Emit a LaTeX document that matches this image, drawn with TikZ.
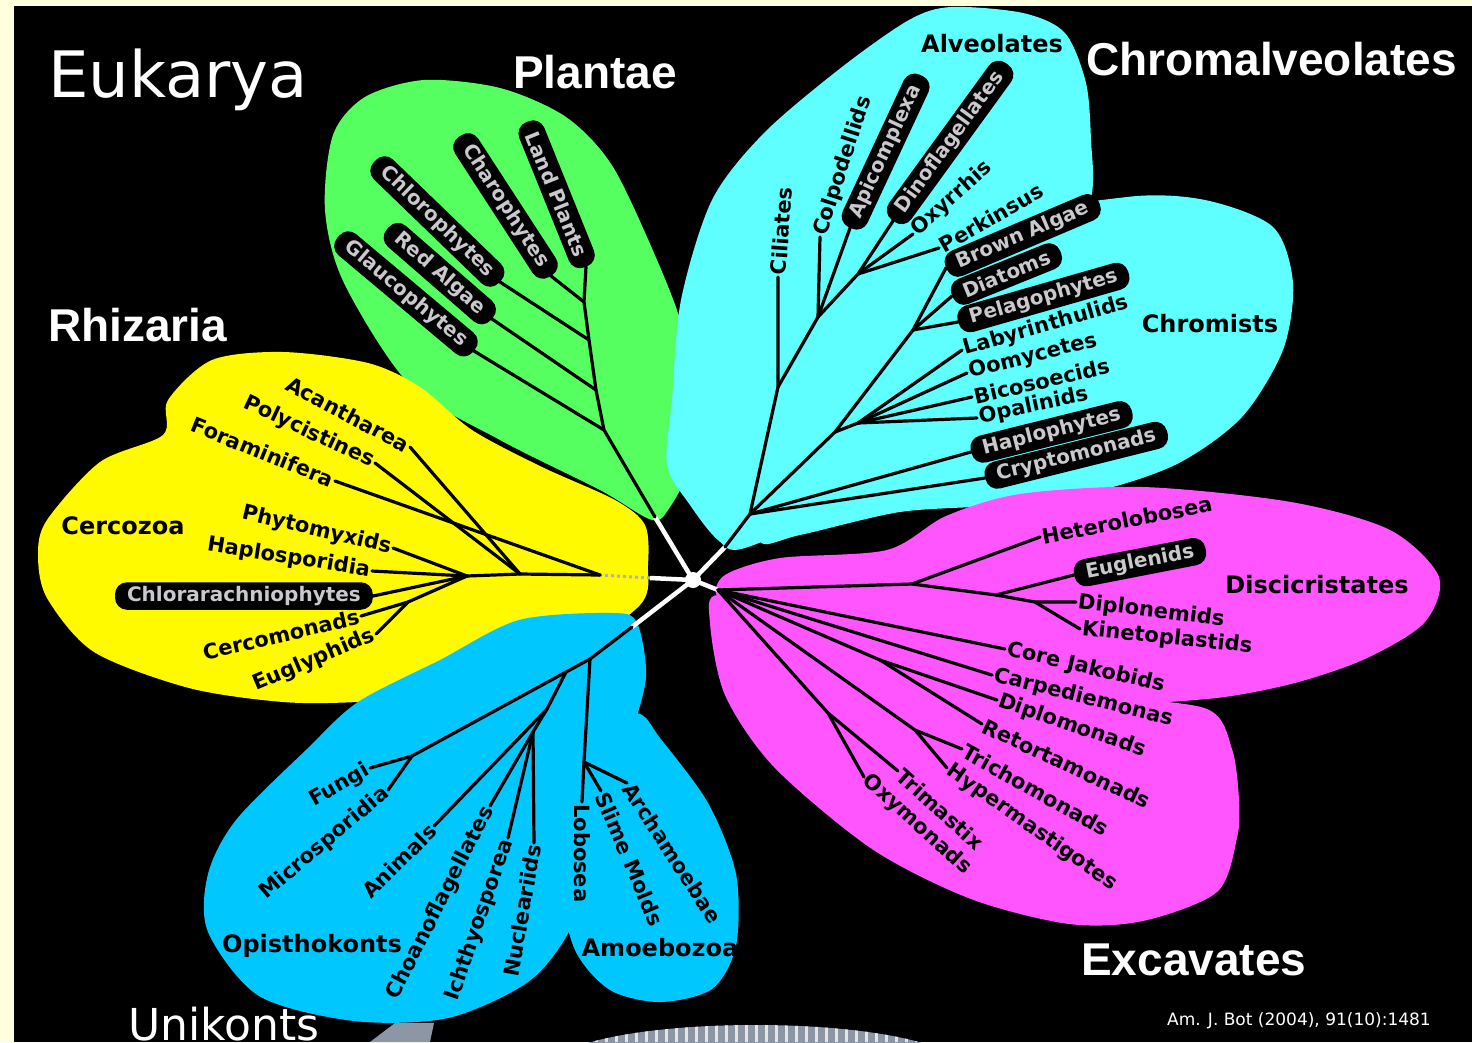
\documentclass[tikz,border=0pt]{standalone}
\usepackage{fontspec}
\newfontfamily\lblfont{DejaVu Sans}
\newfontfamily\ttlfont{Liberation Sans}
\definecolor{paper}{RGB}{255,255,221}
\definecolor{plantgreen}{RGB}{85,255,95}
\definecolor{chromcyan}{RGB}{95,255,255}
\definecolor{rhizyellow}{RGB}{255,250,0}
\definecolor{unikblue}{RGB}{0,200,255}
\definecolor{excmagenta}{RGB}{255,85,255}
\definecolor{pilltext}{RGB}{200,200,205}
\definecolor{stripegray}{RGB}{140,150,165}

\begin{document}
\begin{tikzpicture}[x=1pt, y=-1pt,
  branch/.style={line width=3.2pt, line cap=round},
  spoke/.style={white, line width=4.5pt},
  leaf/.style={font=\lblfont\bfseries\fontsize{21}{24}\selectfont, inner sep=2pt},
  pill/.style={fill=black, text=pilltext, rounded corners=12pt, inner xsep=12pt, inner ysep=4pt, minimum height=27pt, font=\lblfont\bfseries\fontsize{20}{24}\selectfont},
  clade/.style={font=\lblfont\bfseries\fontsize{24}{28}\selectfont, inner sep=0pt},
  bigtitle/.style={white, font=\ttlfont\bfseries\fontsize{46}{50}\selectfont, inner sep=0pt, anchor=base west}]
  % frame
  \fill[paper] (0,0) rectangle (1472,1042);
  \fill[black] (14,6) rectangle (1472,1042);
  \useasboundingbox (0,0) rectangle (1472,1042);

  % petals
  \fill[plantgreen] plot[smooth cycle] coordinates {(424,80) (500,88) (566,117) (613,167) (660,267) (684,333) (693,400) (689,467) (670,507) (652,520) (600,490) (500,440) (410,385) (344,283) (325,210) (333,135) (365,97)};
  \fill[rhizyellow] plot[smooth cycle] coordinates {(47,520) (100,462) (163,435) (168,400) (212,360) (283,352) (368,363) (420,387) (472,430) (542,467) (615,500) (645,525) (648,565) (640,605) (560,660) (450,695) (358,702) (283,702) (189,688) (94,652) (47,598) (38,555)};
  \fill[chromcyan] plot[smooth cycle] coordinates {(951,7) (1023,13) (1065,33) (1086,83) (1091,140) (1091,200) (1060,300) (960,420) (850,500) (745,548) (718,540) (690,505) (667,465) (672,400) (681,300) (712,200) (764,133) (842,67) (909,20)};
  \fill[chromcyan] plot[smooth cycle] coordinates {(1000,225) (1127,197) (1205,200) (1273,227) (1293,283) (1283,350) (1242,417) (1179,463) (1101,490) (1000,505) (900,512) (800,535) (760,540) (790,460) (880,330)};
  \fill[excmagenta] plot[smooth cycle] coordinates {(725,575) (780,558) (887,550) (946,516) (1020,494) (1143,487) (1291,502) (1390,530) (1439,577) (1424,623) (1365,659) (1291,684) (1207,699) (1100,700) (900,660) (760,620) (718,598)};
  \fill[excmagenta] plot[smooth cycle] coordinates {(718,595) (800,620) (950,670) (1100,695) (1207,709) (1232,749) (1239,800) (1237,838) (1217,892) (1143,921) (1069,924) (971,899) (872,849) (774,767) (725,695) (710,623)};
  \fill[unikblue] plot[smooth cycle] coordinates {(358,702) (440,660) (519,620) (613,613) (637,623) (646,677) (630,740) (600,850) (570,930) (528,982) (448,1018) (354,1021) (259,996) (208,932) (208,874) (236,820) (307,749)};
  \fill[unikblue] plot[smooth cycle] coordinates {(580,720) (637,713) (660,738) (708,803) (736,874) (736,946) (712,989) (660,1002) (610,990) (575,950) (560,880) (565,780)};

  % bottom grey pieces
  \begin{scope}
    \clip (0,0) rectangle (1472,1042);
    \fill[stripegray] (755,1065) ellipse (200 and 40);
    \begin{scope}
      \clip (755,1065) ellipse (200 and 40);
      \foreach \sx in {556,566,...,956} \draw[gray!20, line width=3pt] (\sx,1020) -- (\sx,1042);
    \end{scope}
    \fill[stripegray] (370,1042) -- (395,1023) -- (434,1023) -- (430,1042) -- cycle;
  \end{scope}

  % centre and spokes
  \coordinate (ctr) at (693,580);
  \coordinate (g0) at (655,517);
  \coordinate (c0) at (725,547);
  \coordinate (u0) at (632,627);
  \coordinate (m0) at (718,590);
  \coordinate (r0) at (650,578);
  \coordinate (r1) at (600,575);
  \draw[spoke] (ctr) -- (g0);
  \draw[spoke] (ctr) -- (c0);
  \draw[spoke] (ctr) -- (u0);
  \draw[spoke] (ctr) -- (m0);
  \draw[spoke] (ctr) -- (r0);
  \draw[gray!60, line width=3pt, dash pattern=on 3pt off 3pt] (r0) -- (r1);
  \fill[white] (ctr) circle (8);

  % Plantae
  \coordinate (g1) at (604,430);
  \coordinate (g2) at (596,390);
  \coordinate (g3) at (589,340);
  \coordinate (g4) at (584,302);
  \coordinate (tGlau) at (474,351);
  \coordinate (tRed) at (492,319);
  \coordinate (tChlo) at (500,282);
  \coordinate (tChar) at (551,276);
  \coordinate (tLand) at (586,267);
  \draw[branch] (g0) -- (g1) -- (g2) -- (g3) -- (g4) -- (tLand);
  \draw[branch] (g1) -- (tGlau);
  \draw[branch] (g2) -- (tRed);
  \draw[branch] (g3) -- (tChlo);
  \draw[branch] (g4) -- (tChar);
  \node[pill, anchor=east, rotate=-40] (Glaucophytes) at (tGlau) {Glaucophytes};
  \node[pill, anchor=east, rotate=-41] (RedAlgae) at (tRed) {Red Algae};
  \node[pill, anchor=east, rotate=-44] (Chlorophytes) at (tChlo) {Chlorophytes};
  \node[pill, anchor=east, rotate=-57] (Charophytes) at (tChar) {Charophytes};
  \node[pill, anchor=east, rotate=-68] (LandPlants) at (tLand) {Land Plants};

  % Rhizaria
  \coordinate (y1) at (520,574);
  \coordinate (y3) at (467,576);
  \coordinate (y4) at (408,602);
  \coordinate (tAcan) at (410,447);
  \coordinate (tPoly) at (375,463);
  \coordinate (tFora) at (335,481);
  \coordinate (tPhyt) at (393,548);
  \coordinate (tHapl) at (372,571);
  \coordinate (tChlr) at (373,596);
  \coordinate (tCerc) at (361,616);
  \coordinate (tEugl) at (376,634);
  \draw[branch] (r1) -- (y1) -- (y3);
  \draw[branch] (r1) -- (tFora);
  \draw[branch] (y1) -- (tAcan);
  \draw[branch] (y1) -- (tPoly);
  \draw[branch] (y3) -- (tPhyt);
  \draw[branch] (y3) -- (tHapl);
  \draw[branch] (y3) -- (tChlr);
  \draw[branch] (y3) -- (y4);
  \draw[branch] (y4) -- (tCerc);
  \draw[branch] (y4) -- (tEugl);
  \node[leaf, anchor=east, rotate=-28] (Acantharea) at (tAcan) {Acantharea};
  \node[leaf, anchor=east, rotate=-25] (Polycistines) at (tPoly) {Polycistines};
  \node[leaf, anchor=east, rotate=-22] (Foraminifera) at (tFora) {Foraminifera};
  \node[leaf, anchor=east, rotate=-13] (Phytomyxids) at (tPhyt) {Phytomyxids};
  \node[leaf, anchor=east, rotate=-9] (Haplosporidia) at (tHapl) {Haplosporidia};
  \node[pill, anchor=east] (Chlorarachniophytes) at (tChlr) {Chlorarachniophytes};
  \node[leaf, anchor=east, rotate=13] (Cercomonads) at (tCerc) {Cercomonads};
  \node[leaf, anchor=east, rotate=23] (Euglyphids) at (tEugl) {Euglyphids};

  % Unikonts
  \coordinate (b1) at (590,659);
  \coordinate (b2) at (566,672);
  \coordinate (b3) at (547,709);
  \coordinate (b4) at (533,732);
  \coordinate (bf) at (412,756);
  \coordinate (b5) at (584,762);
  \coordinate (tFung) at (370,768);
  \coordinate (tMicr) at (388,790);
  \coordinate (tAnim) at (434,826);
  \coordinate (tChoa) at (490,806);
  \coordinate (tIcht) at (508,838);
  \coordinate (tNucl) at (534,843);
  \coordinate (tLobo) at (582,802);
  \coordinate (tSlim) at (601,791);
  \coordinate (tArch) at (627,783);
  \draw[branch] (u0) -- (b1) -- (b2) -- (bf);
  \draw[branch] (bf) -- (tFung);
  \draw[branch] (bf) -- (tMicr);
  \draw[branch] (b2) -- (b3) -- (tAnim);
  \draw[branch] (b3) -- (b4);
  \draw[branch] (b4) -- (tChoa);
  \draw[branch] (b4) -- (tIcht);
  \draw[branch] (b4) -- (tNucl);
  \draw[branch] (b1) -- (b5) -- (tLobo);
  \draw[branch] (b5) -- (tSlim);
  \draw[branch] (b5) -- (tArch);
  \node[leaf, anchor=east, rotate=30] (Fungi) at (tFung) {Fungi};
  \node[leaf, anchor=east, rotate=40] (Microsporidia) at (tMicr) {Microsporidia};
  \node[leaf, anchor=east, rotate=45] (Animals) at (tAnim) {Animals};
  \node[leaf, anchor=east, rotate=63] (Choanoflagellates) at (tChoa) {Choanoflagellates};
  \node[leaf, anchor=east, rotate=71] (Ichthyosporea) at (tIcht) {Ichthyosporea};
  \node[leaf, anchor=east, rotate=80] (Nucleariids) at (tNucl) {Nucleariids};
  \node[leaf, anchor=west, rotate=-90] (Lobosea) at (tLobo) {Lobosea};
  \node[leaf, anchor=west, rotate=-67] (SlimeMolds) at (tSlim) {Slime Molds};
  \node[leaf, anchor=west, rotate=-57] (Archamoebae) at (tArch) {Archamoebae};

  % Chromalveolates
  \coordinate (c1) at (750,514);
  \coordinate (a0) at (778,387);
  \coordinate (a1) at (818,317);
  \coordinate (a2) at (858,274);
  \coordinate (s0) at (835,432);
  \coordinate (s1) at (858,423);
  \coordinate (s2) at (913,330);
  \coordinate (tCili) at (778,277);
  \coordinate (tColp) at (820,237);
  \coordinate (tApic) at (850,228);
  \coordinate (tDino) at (893,221);
  \coordinate (tOxyr) at (913,234);
  \coordinate (tPerk) at (939,248);
  \coordinate (tBrow) at (946,268);
  \coordinate (tDiat) at (952,296);
  \coordinate (tPela) at (958,322);
  \coordinate (tLaby) at (962,350);
  \coordinate (tOomy) at (967,373);
  \coordinate (tBico) at (972,397);
  \coordinate (tOpal) at (977,418);
  \coordinate (tHapt) at (971,452);
  \coordinate (tCryp) at (985,478);
  \draw[branch] (c0) -- (c1) -- (a0) -- (tCili);
  \draw[branch] (a0) -- (a1) -- (tColp);
  \draw[branch] (a1) -- (tApic);
  \draw[branch] (a1) -- (a2) -- (tDino);
  \draw[branch] (a2) -- (tOxyr);
  \draw[branch] (a2) -- (tPerk);
  \draw[branch] (c1) -- (s0) -- (s2) -- (tBrow);
  \draw[branch] (s2) -- (tDiat);
  \draw[branch] (s2) -- (tPela);
  \draw[branch] (s0) -- (s1) -- (tLaby);
  \draw[branch] (s1) -- (tOomy);
  \draw[branch] (s1) -- (tBico);
  \draw[branch] (s1) -- (tOpal);
  \draw[branch] (c1) -- (tHapt);
  \draw[branch] (c1) -- (tCryp);
  \node[leaf, anchor=west, rotate=86] (Ciliates) at (tCili) {Ciliates};
  \node[leaf, anchor=west, rotate=72] (Colpodellids) at (tColp) {Colpodellids};
  \node[pill, anchor=west, rotate=65] (Apicomplexa) at (tApic) {Apicomplexa};
  \node[pill, anchor=west, rotate=54] (Dinoflagellates) at (tDino) {Dinoflagellates};
  \node[leaf, anchor=west, rotate=42] (Oxyrrhis) at (tOxyr) {Oxyrrhis};
  \node[leaf, anchor=west, rotate=30] (Perkinsus) at (tPerk) {Perkinsus};
  \node[pill, anchor=west, rotate=23] (BrownAlgae) at (tBrow) {Brown Algae};
  \node[pill, anchor=west, rotate=22] (Diatoms) at (tDiat) {Diatoms};
  \node[pill, anchor=west, rotate=16] (Pelagophytes) at (tPela) {Pelagophytes};
  \node[leaf, anchor=west, rotate=16] (Labyrinthulids) at (tLaby) {Labyrinthulids};
  \node[leaf, anchor=west, rotate=14] (Oomycetes) at (tOomy) {Oomycetes};
  \node[leaf, anchor=west, rotate=13] (Bicosoecids) at (tBico) {Bicosoecids};
  \node[leaf, anchor=west, rotate=12] (Opalinids) at (tOpal) {Opalinids};
  \node[pill, anchor=west, rotate=14] (Haplophytes) at (tHapt) {Haplophytes};
  \node[pill, anchor=west, rotate=14] (Cryptomonads) at (tCryp) {Cryptomonads};

  % Excavates
  \coordinate (m1) at (912,584);
  \coordinate (m2) at (996,595);
  \coordinate (m3) at (1035,602);
  \coordinate (m4) at (880,660);
  \coordinate (m5) at (915,730);
  \coordinate (m6) at (828,713);
  \coordinate (tHete) at (1040,537);
  \coordinate (tEugn) at (1074,575);
  \coordinate (tDipn) at (1076,602);
  \coordinate (tKine) at (1080,629);
  \coordinate (tCore) at (1005,649);
  \coordinate (tCarp) at (992,675);
  \coordinate (tDipm) at (997,700);
  \coordinate (tReto) at (982,724);
  \coordinate (tTric) at (962,749);
  \coordinate (tHype) at (947,768);
  \coordinate (tTrim) at (898,771);
  \coordinate (tOxym) at (864,777);
  \draw[branch] (m0) -- (m1) -- (m2) -- (tEugn);
  \draw[branch] (m1) -- (tHete);
  \draw[branch] (m2) -- (m3) -- (tDipn);
  \draw[branch] (m3) -- (tKine);
  \draw[branch] (m0) -- (tCore);
  \draw[branch] (m0) -- (tCarp);
  \draw[branch] (m0) -- (m4) -- (tDipm);
  \draw[branch] (m4) -- (tReto);
  \draw[branch] (m0) -- (m5) -- (tTric);
  \draw[branch] (m5) -- (tHype);
  \draw[branch] (m0) -- (m6) -- (tTrim);
  \draw[branch] (m6) -- (tOxym);
  \node[leaf, anchor=west, rotate=11] (Heterolobosea) at (tHete) {Heterolobosea};
  \node[pill, anchor=west, rotate=11] (Euglenids) at (tEugn) {Euglenids};
  \node[leaf, anchor=west, rotate=-7] (Diplonemids) at (tDipn) {Diplonemids};
  \node[leaf, anchor=west, rotate=-6] (Kinetoplastids) at (tKine) {Kinetoplastids};
  \node[leaf, anchor=west, rotate=-13] (CoreJakobids) at (tCore) {Core Jakobids};
  \node[leaf, anchor=west, rotate=-14] (Carpediemonas) at (tCarp) {Carpediemonas};
  \node[leaf, anchor=west, rotate=-19] (Diplomonads) at (tDipm) {Diplomonads};
  \node[leaf, anchor=west, rotate=-25] (Retortamonads) at (tReto) {Retortamonads};
  \node[leaf, anchor=west, rotate=-29] (Trichomonads) at (tTric) {Trichomonads};
  \node[leaf, anchor=west, rotate=-35] (Hypermastigotes) at (tHype) {Hypermastigotes};
  \node[leaf, anchor=west, rotate=-42] (Trimastix) at (tTrim) {Trimastix};
  \node[leaf, anchor=west, rotate=-42] (Oxymonads) at (tOxym) {Oxymonads};

  % group labels
  \node[clade] (Alveolates) at (992,44) {Alveolates};
  \node[clade] (Chromists) at (1210,324) {Chromists};
  \node[clade] (Cercozoa) at (123,526) {Cercozoa};
  \node[clade] (Discicristates) at (1317,585) {Discicristates};
  \node[clade] (Opisthokonts) at (312,946) {Opisthokonts};
  \node[clade] (Amoebozoa) at (660,948) {Amoebozoa};

  % titles
  \node[white, font=\lblfont\fontsize{64}{70}\selectfont, inner sep=0pt, anchor=base west] (Eukarya) at (48,97) {Eukarya};
  \node[bigtitle] (Plantae) at (513,88) {Plantae};
  \node[bigtitle] (Chromalveolates) at (1086,75) {Chromalveolates};
  \node[bigtitle] (Rhizaria) at (48,341) {Rhizaria};
  \node[bigtitle] (Excavates) at (1081,975) {Excavates};
  \node[white, font=\lblfont\fontsize{44}{50}\selectfont, inner sep=0pt, text depth=0pt, anchor=base west] (Unikonts) at (128,1040) {Unikonts};
  \node[white, font=\lblfont\fontsize{17}{20}\selectfont, inner sep=0pt, anchor=base west] (citation) at (1167,1025) {Am. J. Bot (2004), 91(10):1481};
\end{tikzpicture}
\end{document}
